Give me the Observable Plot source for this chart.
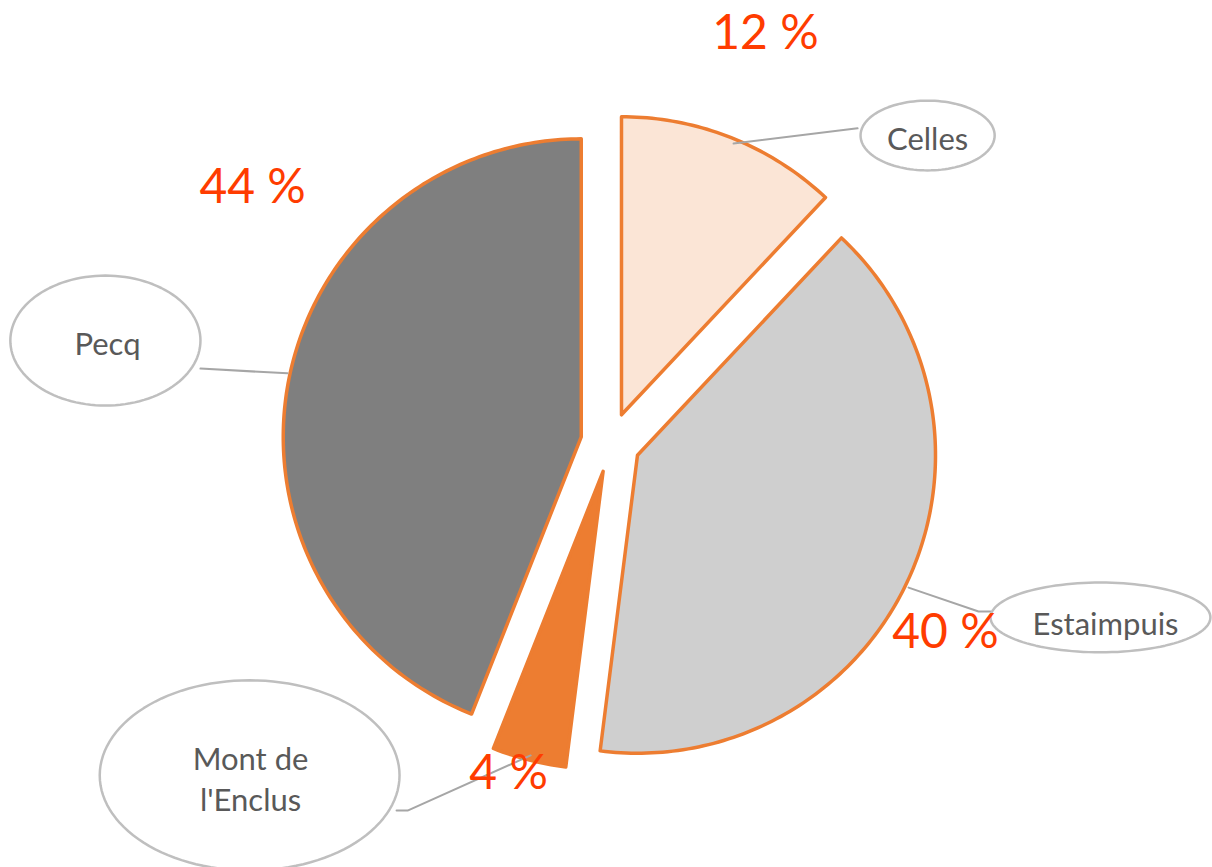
<!DOCTYPE html>
<html>
<head>
<meta charset="utf-8">
<script src="https://cdn.jsdelivr.net/npm/d3@7"></script>
<script src="https://cdn.jsdelivr.net/npm/@observablehq/plot@0.6"></script>
<style>
  html, body { margin: 0; padding: 0; background: #ffffff; }
  #chart svg { display: block; }
</style>
</head>
<body>
<div id="chart"></div>
<script>
// ---- data ----
const categories = ["Celles", "Estaimpuis", "Mont de l'Enclus", "Pecq"];
const shares = [12, 40, 4, 44];
const percentLabels = ["12 %", "40 %", "4 %", "44 %"];
const categoryLabels = ["Celles", "Estaimpuis", "Mont de\nl'Enclus", "Pecq"];

// ---- styles ----
const sliceColors = ["#FBE5D6", "#CFCFCF", "#ED7D31", "#7F7F7F"];
const sliceStroke = "#ED7D31";
const pctColor = "#FF3C00";
const labelColor = "#595959";
const calloutStroke = "#BFBFBF";
const leaderColor = "#A6A6A6";

// ---- layout (in pie-radius units, pie centre at 0,0) ----
const EXPLODE = 0.1;
const pctPos = [[0.520, 1.372], [1.124, -0.638], [-0.342, -1.111], [-1.201, 0.856]];
// callout ellipse centre x, y, radius x, radius y
const calloutBox = [
  [1.064, 1.030, 0.225, 0.117],
  [1.644, -0.587, 0.369, 0.117],
  [-1.211, -1.117, 0.503, 0.319],
  [-1.695, 0.342, 0.319, 0.218]
];
const calloutText = [[1.064, 1.024], [1.661, -0.604], [-1.208, -1.124], [-1.688, 0.336]];
const leaderPaths = [
  [[0.413, 1.003], [0.829, 1.054]],
  [[1.0, -0.487], [1.235, -0.567], [1.275, -0.567]],
  [[-0.718, -1.235], [-0.681, -1.235], [-0.268, -1.050]],
  [[-1.376, 0.248], [-1.084, 0.232]]
];

// ---- geometry from data ----
const arcs = d3.pie().sort(null).value(d => d)(shares);
const slicePts = arcs.flatMap((a, i) => {
  const mid = (a.startAngle + a.endAngle) / 2;
  const ox = EXPLODE * Math.sin(mid), oy = EXPLODE * Math.cos(mid);
  const name = categories[i];
  const pts = [{name, x: ox, y: oy}];
  const n = Math.max(4, Math.ceil((a.endAngle - a.startAngle) / (2 * Math.PI) * 360));
  for (let k = 0; k <= n; k++) {
    const t = a.startAngle + (a.endAngle - a.startAngle) * k / n;
    pts.push({name, x: ox + Math.sin(t), y: oy + Math.cos(t)});
  }
  return pts;
});

const ellipsePts = calloutBox.flatMap(([cx, cy, rx, ry], i) =>
  d3.range(0, 120).map(k => {
    const t = k / 120 * 2 * Math.PI;
    return {name: categories[i], x: cx + rx * Math.cos(t), y: cy + ry * Math.sin(t)};
  })
);

const leaderPts = leaderPaths.flatMap((path, i) =>
  path.map(([x, y]) => ({name: categories[i], x, y}))
);

const pctData = categories.map((c, i) => ({name: c, label: percentLabels[i], x: pctPos[i][0], y: pctPos[i][1]}));
const textData = categories.map((c, i) => ({name: c, label: categoryLabels[i], x: calloutText[i][0], y: calloutText[i][1]}));

const chart = Plot.plot({
  width: 1212,
  height: 867,
  margin: 0,
  style: {background: "#ffffff"},
  x: {domain: [-2.047, 2.020], axis: null},
  y: {domain: [-1.426, 1.483], axis: null},
  color: {domain: categories, range: sliceColors},
  marks: [
    Plot.line(slicePts, {
      x: "x", y: "y", z: "name", fill: "name",
      stroke: sliceStroke, strokeWidth: 3.5, strokeLinejoin: "round",
      curve: "linear-closed"
    }),
    Plot.line(leaderPts, {x: "x", y: "y", z: "name", stroke: leaderColor, strokeWidth: 2}),
    Plot.line(ellipsePts, {
      x: "x", y: "y", z: "name", fill: "#ffffff",
      stroke: calloutStroke, strokeWidth: 2.5, curve: "linear-closed"
    }),
    Plot.text(textData, {
      x: "x", y: "y", text: "label", fill: labelColor,
      fontFamily: "Lato", fontSize: 31, lineHeight: 1.3
    }),
    Plot.text(pctData, {
      x: "x", y: "y", text: "label", fill: pctColor,
      fontFamily: "Lato", fontSize: 48
    })
  ]
});
document.getElementById("chart").appendChild(chart);
</script>
</body>
</html>
